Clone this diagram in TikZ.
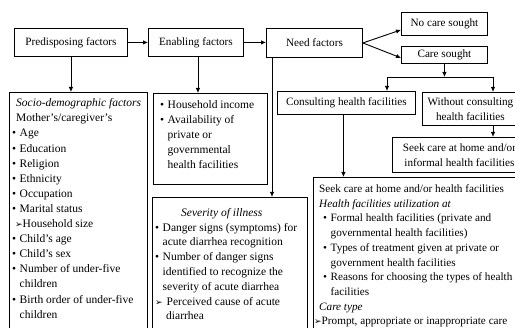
\documentclass[tikz,border=0pt]{standalone}
\usepackage{fontspec}
\setmainfont{Liberation Serif}
\newfontfamily\dejavu{DejaVu Sans}
\usetikzlibrary{arrows.meta}
\newcommand\bul{\makebox[7.5pt][l]{\textbullet}}
\newcommand\pnt{{\dejavu\fontsize{9}{9}\selectfont ➢}}
\begin{document}
\begin{tikzpicture}[x=1pt,y=-1pt, font=\fontsize{11.2}{14.5}\selectfont,
  box/.style={draw, line width=0.9pt, inner sep=0pt, anchor=north west},
  txt/.style={inner sep=0pt, anchor=north west, align=left},
  arw/.style={line width=0.9pt, -{Latex[length=5pt,width=4.5pt]}},
  ln/.style={line width=0.9pt}]
\useasboundingbox (0,0) rectangle (515,328);
\clip (0,0) rectangle (515,328);
% top row
\node[box, minimum width=113pt, minimum height=28pt] (pre) at (14,28) {Predisposing factors};
\node[box, minimum width=95pt, minimum height=28pt] (ena) at (148,28) {Enabling factors};
\node[box, minimum width=96pt, minimum height=29pt] (need) at (266,28) {Need factors};
\node[box, minimum width=86pt, minimum height=23pt] (nocare) at (401,12) {No care sought};
\node[box, minimum width=86pt, minimum height=17pt] (care) at (401,46) {Care sought};
% content boxes
\node[box, minimum width=138pt, minimum height=250pt] (socio) at (9,92) {};
\node[box, minimum width=114pt, minimum height=91pt] (encont) at (153,93) {};
\node[box, minimum width=155pt, minimum height=150pt] (sev) at (152,197) {};
\node[box, minimum width=138pt, minimum height=23pt] (cons) at (277,91) {Consulting health facilities};
\node[box, minimum width=96pt, minimum height=33pt, align=center] (without) at (422,92) {Without consulting\\health facilities};
\node[box, minimum width=134pt, minimum height=35pt, align=center] (informal) at (392,137) {Seek care at home and/or\\informal health facilities};
\node[box, minimum width=220pt, minimum height=170pt] (big) at (313,177) {};
% texts
\node[txt, font=\fontsize{11.5}{15.1}\selectfont] (sociot) at (12,98.5) {\hspace*{4pt}\textit{Socio-demographic factors}\\
\hspace*{4pt}Mother's/caregiver's\\
\bul Age\\
\bul Education\\
\bul Religion\\
\bul Ethnicity\\
\bul Occupation\\
\bul Marital status\\
\hspace*{3pt}\pnt Household size\\
\bul Child's age\\
\bul Child's sex\\
\bul Number of under-five\\
\hspace*{7.5pt}children\\
\bul Birth order of under-five\\
\hspace*{7.5pt}children};
\node[txt, font=\fontsize{11.5}{15}\selectfont] (enat) at (160,100.5) {\bul Household income\\
\bul Availability of\\
\hspace*{7.5pt}private or\\
\hspace*{7.5pt}governmental\\
\hspace*{7.5pt}health facilities};
\node[txt, font=\fontsize{11.5}{14.8}\selectfont] (sevt) at (155,208) {\hspace*{26pt}\textit{Severity of illness}\\
\bul Danger signs (symptoms) for\\
\hspace*{7.5pt}acute diarrhea recognition\\
\bul Number of danger signs\\
\hspace*{7.5pt}identified to recognize the\\
\hspace*{7.5pt}severity of acute diarrhea\\
\pnt\hspace{4pt}Perceived cause of acute\\
\hspace*{11pt}diarrhea};
\node[txt, font=\fontsize{11.2}{14.7}\selectfont] (bigt) at (319,184.5) {Seek care at home and/or health facilities\\
\textit{Health facilities utilization at}\\
\hspace*{4pt}\bul Formal health facilities (private and\\
\hspace*{11.5pt}governmental health facilities)\\
\hspace*{4pt}\bul Types of treatment given at private or\\
\hspace*{11.5pt}government health facilities\\
\hspace*{4pt}\bul Reasons for choosing the types of health\\
\hspace*{11.5pt}facilities\\
\textit{Care type}\\
\hspace*{-5pt}\pnt Prompt, appropriate or inappropriate care};
% connectors
\draw[arw] (pre.east) -- (pre.east -| ena.west);
\draw[arw] (ena.east) -- (ena.east -| need.west);
\draw[arw] (pre.south) -- (pre.south |- socio.north);
\draw[arw] ([xshift=2pt]ena.south) -- ([xshift=2pt]ena.south |- encont.north);
\draw[arw] ([xshift=6pt]need.south west) -- ([xshift=6pt]need.south west |- sev.north);
\draw[arw] (need.east) -- ([yshift=6pt]nocare.south west);
\draw[arw] (need.east) -- ([yshift=6pt]care.south west);
\coordinate (barL) at (387,77);
\coordinate (barR) at (493,77);
\draw[arw] (care.south) -- (care.south |- barL);
\draw[ln, line cap=rect] (barL) -- (barR);
\draw[arw] (barL) -- (barL |- cons.north);
\draw[arw] (barR) -- (barR |- without.north);
\draw[arw] (barR |- without.south) -- (barR |- informal.north);
\draw[arw] ([xshift=-3pt]cons.south) -- ([xshift=-3pt]cons.south |- big.north);
\end{tikzpicture}
\end{document}
